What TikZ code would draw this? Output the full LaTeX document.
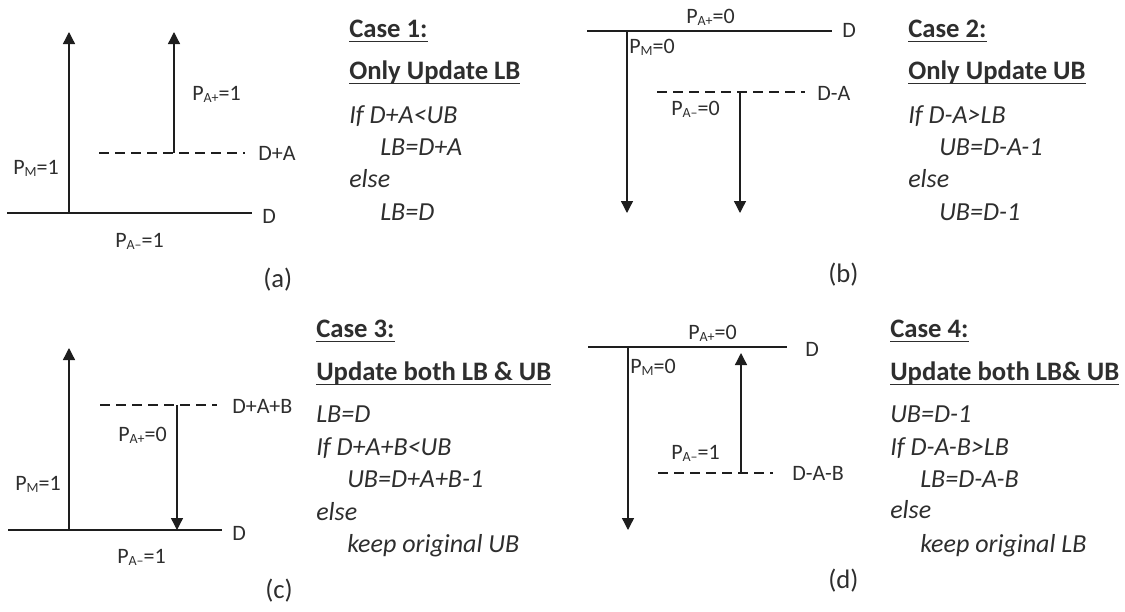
\documentclass[tikz,border=0pt]{standalone}
\usepackage{fontspec}
\setmainfont{Carlito}
\usetikzlibrary{arrows.meta}
\definecolor{txt}{HTML}{2E2E2E}
\definecolor{lc}{HTML}{1E1E1E}
\newcommand{\lsub}[1]{\raisebox{-2pt}{\fontsize{10.5}{10.5}\selectfont #1}}
\newcommand{\myul}[1]{\setbox0\hbox{#1}\leavevmode\rlap{\rule[-3.8pt]{\wd0}{1.1pt}}\box0}
\tikzset{
  lab/.style={inner sep=0pt, anchor=base west, font=\fontsize{16.5}{16.5}\selectfont, text=txt},
  sublab/.style={inner sep=0pt, anchor=base west, font=\fontsize{20}{20}\selectfont, text=txt},
  ttl/.style={inner sep=0pt, anchor=base west, font=\fontsize{20}{20}\selectfont\bfseries, text=txt},
  codeln/.style={inner sep=0pt, anchor=base west, font=\fontsize{19.5}{19.5}\selectfont\itshape, text=txt},
  ln/.style={line width=1pt, draw=lc},
  dsh/.style={ln, dash pattern=on 7.5pt off 4.5pt},
  arr/.style={ln, -{Triangle[width=9pt,length=9pt]}}
}
\begin{document}
\begin{tikzpicture}[x=0.75pt,y=-0.75pt]
\useasboundingbox (0,0) rectangle (1125,611);
% ---------- (a) ----------
\coordinate (aL) at (7,213); \coordinate (aR) at (252,213);
\coordinate (aDL) at (99,153); \coordinate (aDR) at (245,153);
\coordinate (a1) at (69,213); \coordinate (a1t) at (69,32);
\coordinate (a2) at (174,153); \coordinate (a2t) at (174,32);
\draw[ln] (aL) -- (aR);
\draw[dsh] (aDL) -- (aDR);
\draw[arr] (a1) -- (a1t);
\draw[arr] (a2) -- (a2t);
\node[lab] (aPM) at (13,174) {P\lsub{M}=1};
\node[lab] (aPAp) at (192,100) {P\lsub{A+}=1};
\node[lab] (aPAm) at (115,247) {P\lsub{A–}=1};
\node[lab] (aDA) at (258,160) {D+A};
\node[lab] (aD) at (262,223) {D};
\node[sublab] (acap) at (263,287) {(a)};
% Case 1 text
\node[ttl] (c1a) at (349,37) {\myul{Case 1:}};
\node[ttl] (c1b) at (349,79) {\myul{Only Update LB}};
\node[codeln] (c1c) at (349,123) {If D+A<UB};
\node[codeln] (c1d) at (380,155) {LB=D+A};
\node[codeln] (c1e) at (349,187) {else};
\node[codeln] (c1f) at (380,220) {LB=D};
% ---------- (b) ----------
\coordinate (bL) at (587,31); \coordinate (bR) at (832,31);
\coordinate (bDL) at (657,92); \coordinate (bDR) at (805,92);
\coordinate (b1) at (627,31); \coordinate (b1t) at (627,213);
\coordinate (b2) at (740,92); \coordinate (b2t) at (740,213);
\draw[ln] (bL) -- (bR);
\draw[dsh] (bDL) -- (bDR);
\draw[arr] (b1) -- (b1t);
\draw[arr] (b2) -- (b2t);
\node[lab] (bPAp) at (686,23) {P\lsub{A+}=0};
\node[lab] (bD) at (842,37) {D};
\node[lab] (bPM) at (629,53) {P\lsub{M}=0};
\node[lab] (bDA) at (817,100) {D-A};
\node[lab] (bPAm) at (671,115) {P\lsub{A–}=0};
\node[sublab] (bcap) at (828,282) {(b)};
% Case 2 text
\node[ttl] (c2a) at (908,37) {\myul{Case 2:}};
\node[ttl] (c2b) at (908,79) {\myul{Only Update UB}};
\node[codeln] (c2c) at (908,123) {If D-A>LB};
\node[codeln] (c2d) at (939,155) {UB=D-A-1};
\node[codeln] (c2e) at (908,187) {else};
\node[codeln] (c2f) at (939,220) {UB=D-1};
% ---------- (c) ----------
\coordinate (cL) at (8,530); \coordinate (cR) at (222,530);
\coordinate (cDL) at (100,405); \coordinate (cDR) at (217,405);
\coordinate (c1) at (69,530); \coordinate (c1t) at (69,348);
\coordinate (c2) at (177,405); \coordinate (c2t) at (177,530);
\draw[ln] (cL) -- (cR);
\draw[dsh] (cDL) -- (cDR);
\draw[arr] (c1) -- (c1t);
\draw[arr] (c2) -- (c2t);
\node[lab] (cDAB) at (232,413) {D+A+B};
\node[lab] (cPAp) at (118,441) {P\lsub{A+}=0};
\node[lab] (cPM) at (15,490) {P\lsub{M}=1};
\node[lab] (cD) at (232,540) {D};
\node[lab] (cPAm) at (117,563) {P\lsub{A–}=1};
\node[sublab] (ccap) at (265,598) {(c)};
% Case 3 text
\node[ttl] (c3a) at (316,337) {\myul{Case 3:}};
\node[ttl] (c3b) at (316,380) {\myul{Update both LB \& UB}};
\node[codeln] (c3c) at (316,422) {LB=D};
\node[codeln] (c3d) at (316,455) {If D+A+B<UB};
\node[codeln] (c3e) at (347,487) {UB=D+A+B-1};
\node[codeln] (c3f) at (316,520) {else};
\node[codeln] (c3g) at (347,552) {keep original UB};
% ---------- (d) ----------
\coordinate (dL) at (588,347); \coordinate (dR) at (787,347);
\coordinate (dDL) at (658,473); \coordinate (dDR) at (773,473);
\coordinate (d1) at (628,347); \coordinate (d1t) at (628,530);
\coordinate (d2) at (741,473); \coordinate (d2t) at (741,353);
\draw[ln] (dL) -- (dR);
\draw[dsh] (dDL) -- (dDR);
\draw[arr] (d1) -- (d1t);
\draw[arr] (d2) -- (d2t);
\node[lab] (dPAp) at (688,339) {P\lsub{A+}=0};
\node[lab] (dD) at (805,356) {D};
\node[lab] (dPM) at (630,373) {P\lsub{M}=0};
\node[lab] (dPAm) at (671,459) {P\lsub{A–}=1};
\node[lab] (dDAB) at (792,480) {D-A-B};
\node[sublab] (dcap) at (828,588) {(d)};
% Case 4 text
\node[ttl] (c4a) at (890,337) {\myul{Case 4:}};
\node[ttl] (c4b) at (890,380) {\myul{Update both LB\& UB}};
\node[codeln] (c4c) at (890,422) {UB=D-1};
\node[codeln] (c4d) at (890,455) {If D-A-B>LB};
\node[codeln] (c4e) at (920,487) {LB=D-A-B};
\node[codeln] (c4f) at (890,518) {else};
\node[codeln] (c4g) at (920,552) {keep original LB};
\end{tikzpicture}
\end{document}
